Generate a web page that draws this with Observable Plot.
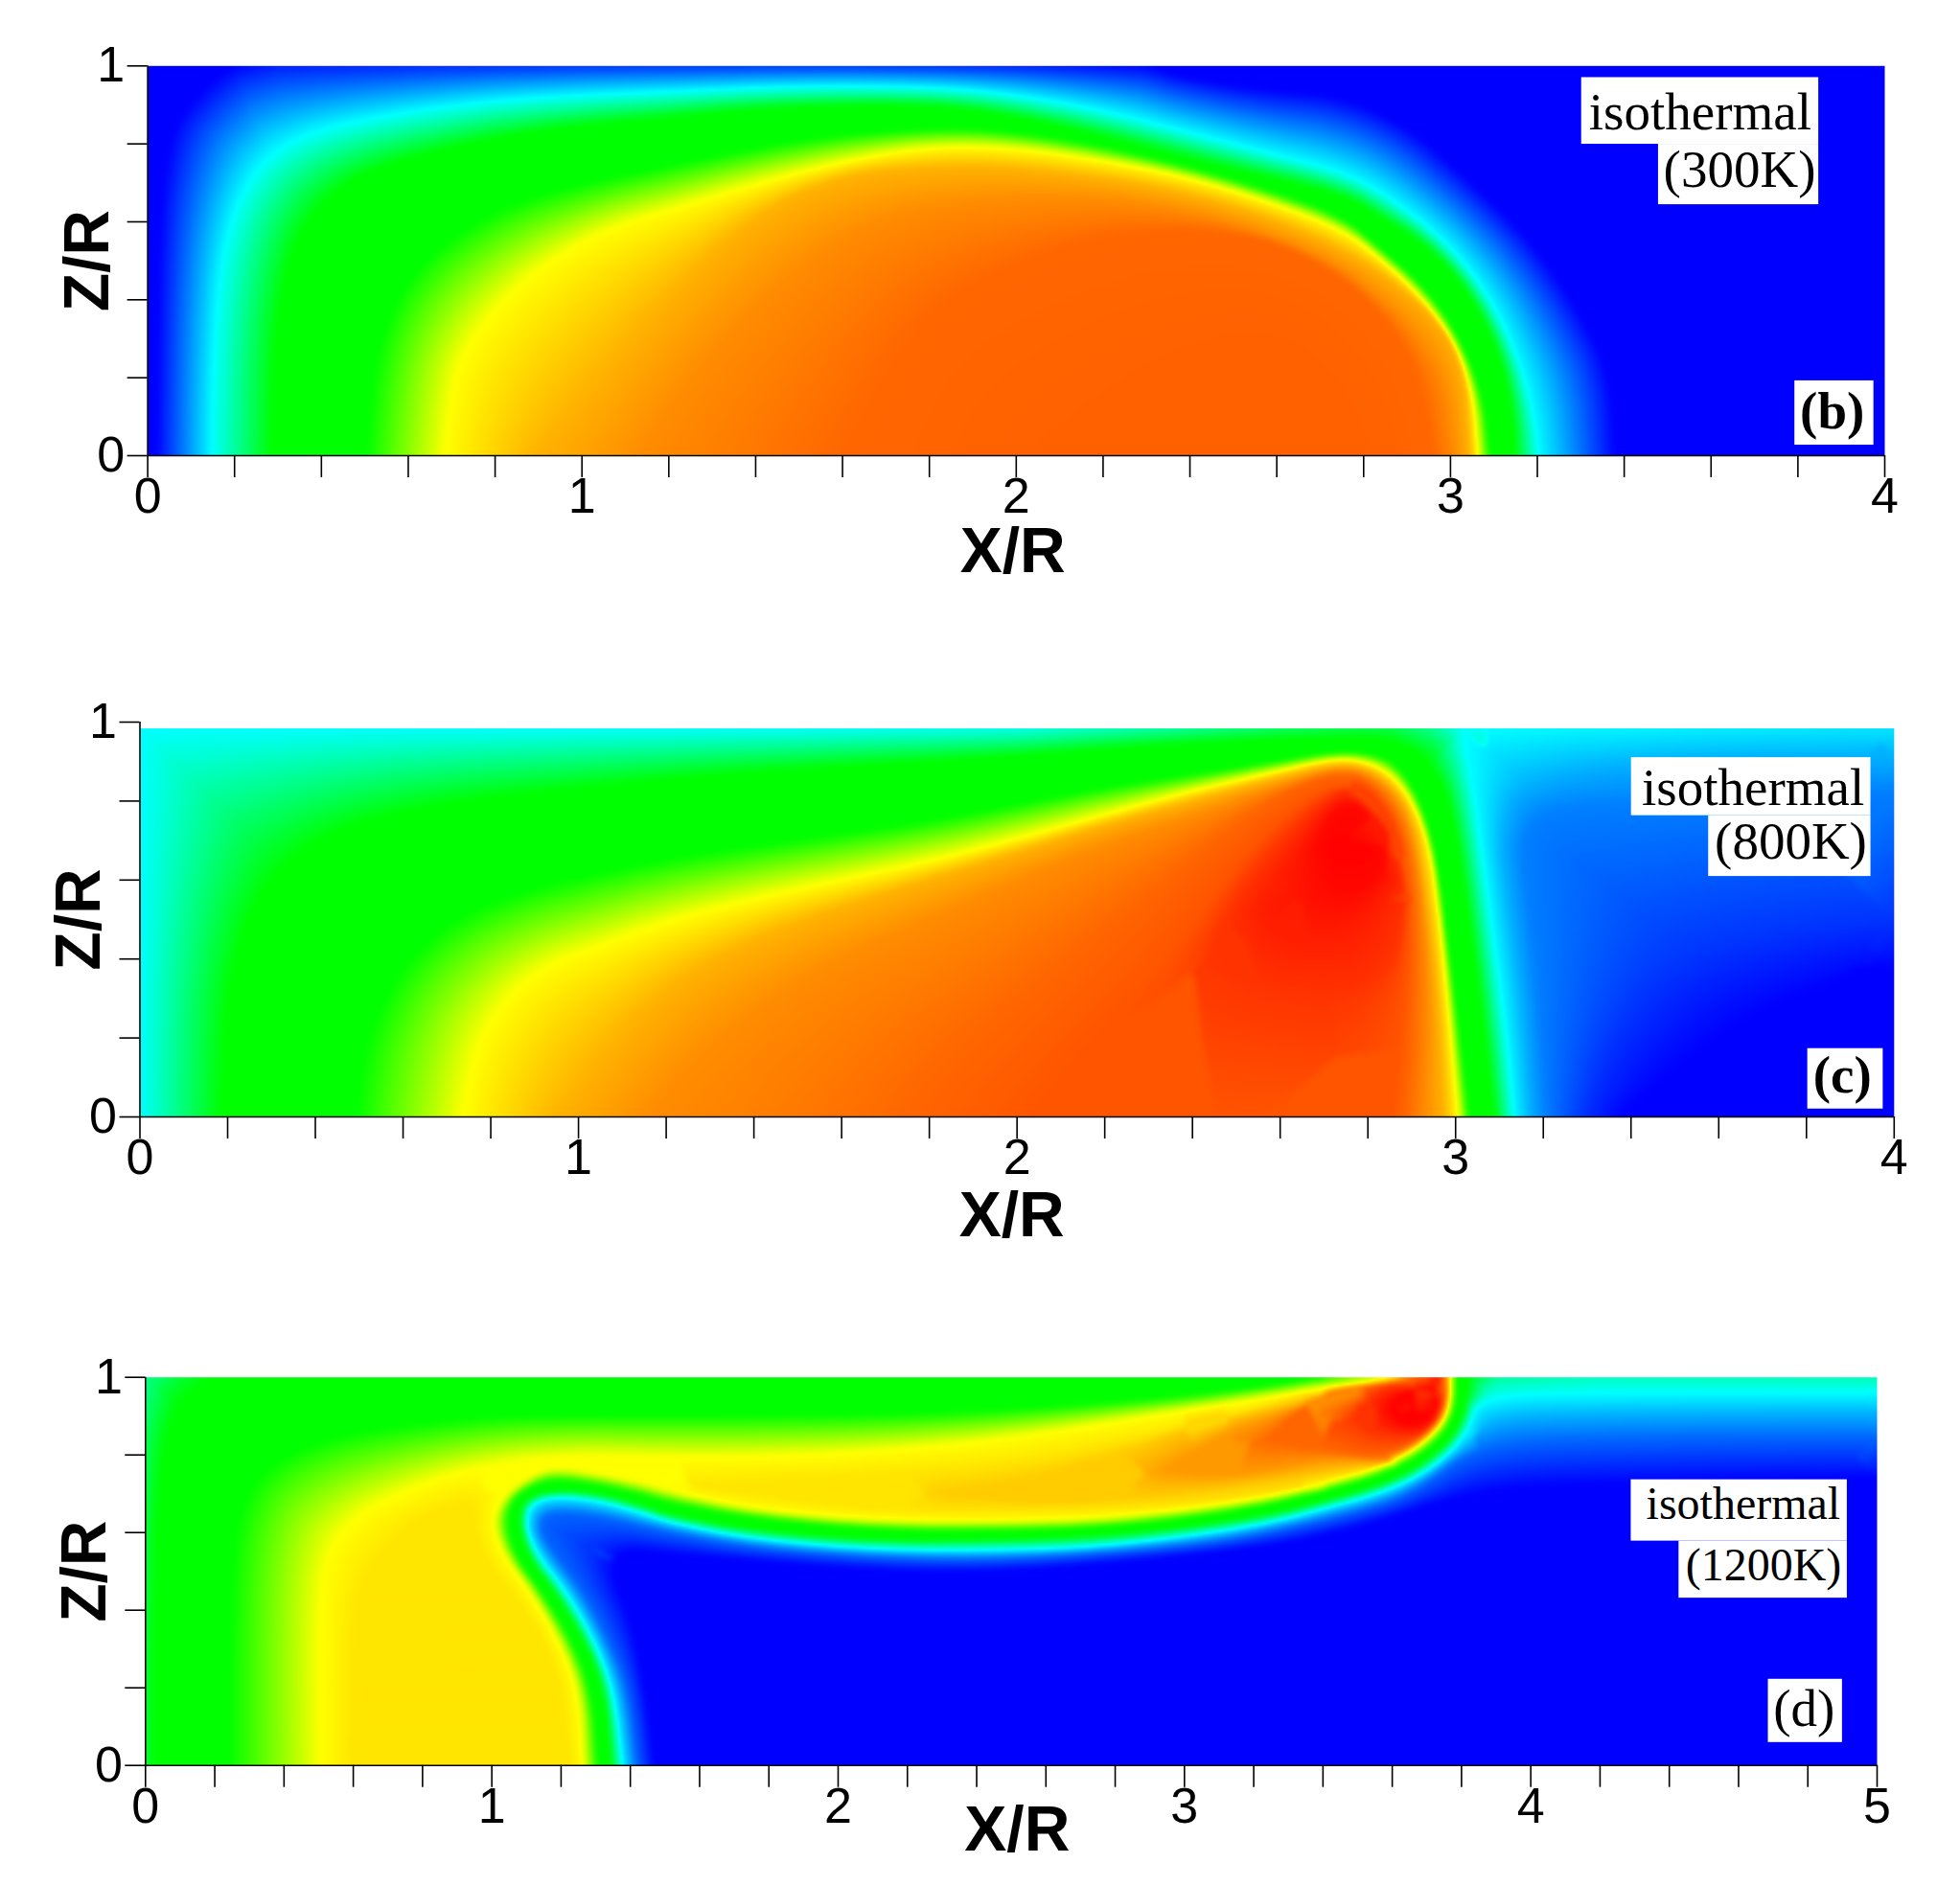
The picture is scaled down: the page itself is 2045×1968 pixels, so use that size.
<!DOCTYPE html>
<html><head><meta charset="utf-8">
<script src="https://cdn.jsdelivr.net/npm/d3@7"></script>
<script src="https://cdn.jsdelivr.net/npm/@observablehq/plot@0.6"></script>
<style>html,body{margin:0;background:#fff}#page{position:relative;width:2045px;height:1968px;background:#fff;overflow:hidden}#page svg{position:absolute;left:0}</style>
</head><body><div id="page"></div>
<script>
// colour levels: 0 blue, 1 cyan, 2 green, 3 yellow, 4 red
const levelValues = [0, 1, 2, 3, 4];
const levelColors = ["#0000ff", "#00ffff", "#00ff00", "#ffff00", "#ff0000"];

// ---------- panel (b): frame values [X/R, Z/R, level] and isolines [X/R, Z/R]
const b_frame = [[4,0,0],[4,1,0],[2.3,1,0],[2,1,.12],[1.6,1,.2],[1,1,.2],[.3,1,.12],[.2,1,0],[0,1,0],[0,0,0]];
const b_v0L = [[.02,0],[.025,.5],[.035,.7],[.06,.85],[.12,.93],[.16,.97],[.2,1]];
const b_v0R = [[2.3,1],[2.39,.97],[2.59,.935],[2.74,.925],[2.897,.85],[3.03,.72],[3.19,.55],[3.31,.35],[3.37,.2],[3.38,0]];
const b_v1 = [[.148,0],[.15,.2],[.163,.435],[.183,.567],[.222,.689],[.291,.783],[.399,.84],[.596,.882],[.793,.91],[.99,.924],[1.207,.934],[1.502,.948],[1.818,.945],[1.995,.925],[2.192,.887],[2.389,.831],[2.586,.774],[2.769,.722],[2.897,.633],[3.015,.52],[3.103,.379],[3.162,.229],[3.192,.097],[3.202,0]];
const b_g1 = [[.286,0],[.291,.247],[.311,.435],[.35,.576],[.439,.689],[.547,.746],[.743,.802],[.94,.84],[1.207,.868],[1.404,.89],[1.7,.901],[1.897,.89],[2.094,.849],[2.291,.793],[2.488,.737],[2.752,.671],[2.84,.61],[2.936,.548],[3.034,.436],[3.113,.266],[3.143,.106],[3.147,0]];
const b_g2 = [[.502,0],[.517,.2],[.547,.341],[.606,.464],[.694,.558],[.842,.652],[1.038,.708],[1.207,.746],[1.404,.792],[1.6,.825],[1.847,.842],[2,.83],[2.192,.796],[2.389,.744],[2.586,.68],[2.752,.614],[2.838,.53],[2.936,.436],[3.015,.313],[3.074,.153],[3.091,0]];
const b_v3 = [[.684,0],[.704,.2],[.743,.294],[.832,.417],[.94,.511],[1.068,.586],[1.207,.633],[1.404,.699],[1.6,.755],[1.798,.794],[1.995,.791],[2.192,.76],[2.389,.718],[2.586,.652],[2.752,.581],[2.838,.511],[2.936,.407],[3.015,.285],[3.054,.153],[3.064,0]];
const b_v33 = [[.89,0],[1,.15],[1.207,.42],[1.4,.62],[1.6,.72],[1.8,.74],[2,.74],[2.4,.68],[2.75,.54],[2.95,.38],[3.03,.25],[3.045,0]];
const b_v345 = [[1.137,0],[1.25,.2],[1.45,.44],[1.65,.6],[1.9,.66],[2.3,.66],[2.7,.53],[2.9,.35],[2.99,.2],[3.01,0]];
const b_v36 = [[1.6,0],[1.75,.3],[1.9,.45],[2.2,.57],[2.5,.58],[2.7,.5],[2.85,.36],[2.93,.2],[2.96,0]];
const b_v362 = [[2.1,0],[2.2,.1],[2.4,.25],[2.6,.3],[2.75,.15],[2.8,0]];
const b_v362base = [[2.1,0],[2.8,0]];
const panelB = [[null,b_frame],[0,b_v0L],[0,b_v0R],[1,b_v1],[2,b_g1],[2,b_g2],[3,b_v3],[3.3,b_v33],[3.45,b_v345],[3.6,b_v36],[3.62,b_v362],[3.62,b_v362base]];

// ---------- panel (c)
const c_frame = [[4,0,0],[4,.38,0],[4,.5,.2],[4,.823,.5],[4,.916,.7],[4,.984,.9],[3.5,.984,.95],[3.017,.984,1],[2.95,.984,1.4],[2.85,.984,1.7],[2.6,.984,1.6],[2.3,.984,1.3],[2,.984,1.05],[1.5,.984,1],[0,.984,1],[0,0,1]];
const c_v0 = [[3.38,0],[3.5,.12],[3.7,.28],[4,.38]];
const c_v02 = [[3.29,0],[3.35,.2],[3.5,.4],[3.8,.48],[4,.5]];
const c_v05 = [[3.205,0],[3.19,.3],[3.16,.59],[3.15,.7],[3.2,.78],[3.5,.8],[4,.823]];
const c_v07 = [[3.17,0],[3.15,.3],[3.113,.59],[3.1,.72],[3.14,.86],[3.5,.91],[4,.916]];
const c_v1R = [[3.133,0],[3.114,.22],[3.08,.499],[3.046,.777],[3.026,.916],[3.017,.984]];
const c_g1 = [[.185,0],[.194,.22],[.209,.359],[.258,.536],[.346,.656],[.463,.731],[.658,.786],[.854,.814],[1.207,.855],[1.5,.88],[1.993,.912],[2.288,.94],[2.748,.963],[2.827,.96],[2.905,.935],[2.958,.87],[2.992,.777],[3.031,.499],[3.065,.22],[3.089,0]];
const c_g2 = [[.492,0],[.512,.174],[.541,.266],[.59,.369],[.658,.452],[.756,.526],[.902,.582],[1.049,.619],[1.207,.656],[1.5,.703],[1.796,.749],[1.993,.791],[2.19,.833],[2.386,.865],[2.583,.898],[2.73,.925],[2.827,.916],[2.876,.879],[2.915,.805],[2.949,.684],[2.973,.499],[3.002,.266],[3.031,0]];
const c_v3 = [[.736,0],[.766,.174],[.814,.266],[.873,.341],[.951,.396],[1.049,.434],[1.207,.499],[1.404,.554],[1.6,.601],[1.796,.647],[1.993,.703],[2.19,.763],[2.386,.824],[2.583,.875],[2.73,.912],[2.808,.898],[2.866,.856],[2.91,.786],[2.944,.684],[2.963,.545],[2.983,.313],[3.007,0]];
const c_v33 = [[.951,0],[1.05,.15],[1.2,.33],[1.4,.45],[1.6,.53],[1.8,.6],[2,.67],[2.2,.74],[2.4,.8],[2.6,.86],[2.75,.9],[2.84,.86],[2.9,.77],[2.93,.6],[2.96,.3],[2.975,0]];
const c_v345 = [[1.16,0],[1.25,.12],[1.4,.27],[1.6,.4],[1.8,.5],[2,.6],[2.2,.69],[2.4,.76],[2.6,.84],[2.75,.89],[2.83,.85],[2.89,.76],[2.92,.6],[2.94,.3],[2.93,0]];
const c_v36 = [[1.75,0],[1.8,.1],[1.95,.25],[2.1,.39],[2.3,.57],[2.5,.75],[2.65,.85],[2.75,.875],[2.82,.84],[2.88,.74],[2.91,.55],[2.9,.2],[2.885,0]];
const c_v367 = [[2.05,0],[2.15,.15],[2.3,.33],[2.42,.52],[2.56,.72],[2.72,.85],[2.81,.81],[2.885,.65],[2.895,.4],[2.87,.15],[2.85,0]];
const c_v367base = [[2.05,0],[2.85,0]];
const c_v38U = [[2.45,.42],[2.5,.56],[2.62,.72],[2.72,.82],[2.78,.84],[2.86,.74],[2.89,.55]];
const c_v38L = [[2.89,.55],[2.86,.38],[2.75,.3],[2.55,.33],[2.45,.42]];
const c_v388U = [[2.55,.52],[2.62,.66],[2.7,.78],[2.76,.82],[2.83,.74],[2.86,.6]];
const c_v388L = [[2.86,.6],[2.8,.48],[2.7,.44],[2.6,.46],[2.55,.52]];
const c_v397U = [[2.68,.68],[2.72,.78],[2.78,.8],[2.84,.72]];
const c_v397L = [[2.84,.72],[2.84,.62],[2.76,.56],[2.7,.6],[2.68,.68]];
const c_v4 = [[2.72,.68],[2.8,.68]];
const panelC = [[null,c_frame],[0,c_v0],[.2,c_v02],[.5,c_v05],[.7,c_v07],[1,c_v1R],[2,c_g1],[2,c_g2],[3,c_v3],[3.3,c_v33],[3.45,c_v345],[3.6,c_v36],[3.67,c_v367],[3.67,c_v367base],[3.8,c_v38U],[3.8,c_v38L],[3.88,c_v388U],[3.88,c_v388L],[3.97,c_v397U],[3.97,c_v397L],[4,c_v4]];

// ---------- panel (d)
const d_frame = [[0,0,1.8],[0,.6,1.75],[0,.85,1.65],[0,1,1.45],[.1,1,1.8],[.2,1,2],[3.4,1,2],[3.63,1,3],[3.68,1,3.5],[3.73,1,3.9],[3.75,1,3.6],[3.77,1,3],[3.783,1,2],[3.82,1,2],[3.9,1,1.4],[4.2,1,1.25],[5,1,1.3],[5,.96,1],[5,.908,.7],[5,.846,.4],[5,.767,.1],[5,.741,0],[5,0,0]];
const d_v0 = [[1.469,0],[1.444,.187],[1.407,.363],[1.345,.495],[1.37,.556],[1.515,.545],[2.133,.5],[2.5,.5],[3,.539],[3.308,.574],[3.555,.627],[3.8,.697],[4.05,.723],[5,.741]];
const d_v04 = [[1.419,0],[1.395,.187],[1.339,.319],[1.259,.451],[1.185,.539],[1.136,.609],[1.16,.653],[1.308,.644],[1.515,.6],[1.763,.561],[2.133,.534],[2.5,.53],[3,.565],[3.243,.6],[3.555,.666],[3.678,.714],[3.826,.811],[4.05,.842],[5,.846]];
const d_v07 = [[3.86,.87],[3.9,.89],[4.05,.905],[5,.908]];
const d_v1 = [[1.376,0],[1.351,.187],[1.296,.319],[1.21,.451],[1.13,.539],[1.092,.627],[1.117,.679],[1.185,.697],[1.308,.684],[1.432,.653],[1.515,.627],[1.763,.583],[2.133,.556],[2.5,.556],[2.75,.565],[3,.591],[3.243,.625],[3.432,.67],[3.555,.701],[3.666,.741],[3.764,.802],[3.82,.873],[3.851,.952],[4.2,.96],[5,.96]];
const d_gA = [[.03,0],[.03,.5],[.04,.75],[.075,.9],[.13,.96],[.2,1]];
const d_gB = [[.242,0],[.242,.363],[.254,.583],[.285,.688],[.346,.767],[.47,.829],[.63,.864],[.877,.89],[1.062,.902],[1.515,.902],[2.01,.903],[2.38,.912],[2.75,.934],[3,.952],[3.243,.978],[3.37,.996]];
const d_gC = [[1.308,0],[1.29,.187],[1.234,.319],[1.142,.451],[1.068,.539],[1.043,.627],[1.062,.688],[1.123,.723],[1.185,.736],[1.308,.723],[1.432,.697],[1.515,.675],[1.763,.635],[2.133,.605],[2.5,.605],[2.75,.612],[3,.635],[3.243,.67],[3.432,.714],[3.555,.745],[3.654,.785],[3.721,.829],[3.764,.877],[3.783,.934],[3.783,1]];
const d_gD = [[1.345,0],[1.327,.187],[1.271,.319],[1.179,.451],[1.105,.539],[1.08,.627],[1.092,.688],[1.185,.706],[1.308,.701],[1.432,.67],[1.515,.644],[1.763,.604],[2.133,.578],[2.5,.583],[2.75,.591],[3,.613],[3.243,.645],[3.432,.688],[3.555,.719],[3.654,.758],[3.734,.811],[3.789,.864],[3.814,.934],[3.82,1]];
const d_yA = [[.507,0],[.502,.363],[.519,.539],[.6,.64],[.75,.71],[.94,.767],[1.2,.8],[1.5,.795],[1.75,.795],[2.13,.81],[2.5,.843],[2.87,.896],[3.24,.95],[3.43,.978],[3.555,.99],[3.63,1]];
const d_yB = [[1.265,0],[1.253,.187],[1.197,.319],[1.111,.451],[1.037,.539],[1,.627],[1.037,.697],[1.123,.75],[1.185,.767],[1.308,.75],[1.432,.728],[1.515,.706],[1.763,.656],[2.133,.628],[2.5,.628],[2.75,.635],[3,.657],[3.243,.69],[3.432,.732],[3.555,.762],[3.654,.807],[3.721,.855],[3.758,.899],[3.771,.952],[3.77,1]];
const d_v31a = [[.6,0],[.6,.35],[.63,.48],[.73,.6],[.85,.66],[.95,.68],[.95,.6],[1,.5],[1.08,.42],[1.15,.32],[1.2,.2],[1.225,0]];
const d_v31aBase = [[.6,0],[1.225,0]];
const d_v31U = [[3.35,.96],[3.1,.89],[2.87,.845],[2.5,.775],[2.13,.75],[1.6,.72]];
const d_v31L = [[1.6,.72],[2.13,.655],[2.5,.655],[2.87,.665],[3.1,.68],[3.4,.72]];
const d_v32U = [[3.4,.955],[3.24,.92],[3,.875],[2.87,.82],[2.6,.745],[2.3,.7]];
const d_v32L = [[2.3,.7],[2.6,.675],[2.87,.69],[3,.7],[3.24,.727],[3.55,.772]];
const d_v34U = [[3.5,.965],[3.35,.93],[3.24,.895],[3.1,.85],[2.95,.76]];
const d_v34L = [[2.95,.76],[3.1,.745],[3.24,.76],[3.43,.79],[3.6,.78]];
const d_v36U = [[3.68,1],[3.5,.975],[3.42,.96],[3.33,.92],[3.24,.84]];
const d_v36L = [[3.24,.84],[3.35,.82],[3.43,.81],[3.55,.79],[3.65,.82],[3.71,.865],[3.745,.91],[3.755,.96],[3.75,1]];
const d_v38U = [[3.49,.9],[3.54,.95],[3.6,.985],[3.745,.95]];
const d_v38L = [[3.49,.9],[3.56,.85],[3.68,.845],[3.735,.89],[3.745,.95]];
const d_v4U = [[3.6,.93],[3.65,.97],[3.72,.97],[3.73,.93]];
const d_v4L = [[3.6,.93],[3.62,.88],[3.7,.88],[3.73,.93]];
const panelD = [[null,d_frame],[0,d_v0],[.4,d_v04],[.7,d_v07],[1,d_v1],[2,d_gA],[2,d_gB],[2,d_gC],[2,d_gD],[3,d_yA],[3,d_yB],[3.1,d_v31a],[3.1,d_v31aBase],[3.1,d_v31U],[3.1,d_v31L],[3.2,d_v32U],[3.2,d_v32L],[3.4,d_v34U],[3.4,d_v34L],[3.6,d_v36U],[3.6,d_v36L],[3.8,d_v38U],[3.8,d_v38L],[4,d_v4U],[4,d_v4L]];

// ---------- ticks
const ticks4 = [0,.2,.4,.6,.8,1,1.2,1.4,1.6,1.8,2,2.2,2.4,2.6,2.8,3,3.2,3.4,3.6,3.8,4];
const ticks5 = [0,.2,.4,.6,.8,1,1.2,1.4,1.6,1.8,2,2.2,2.4,2.6,2.8,3,3.2,3.4,3.6,3.8,4,4.2,4.4,4.6,4.8,5];
const ticksZ = [0,.2,.4,.6,.8,1];

// ---------- annotations
const b_boxes = [[3.302,3.848,.799,.97],[3.479,3.848,.644,.799],[3.793,3.975,.027,.192]];
const b_notes = [{t:"isothermal",x:3.831,z:.836},{t:"(300K)",x:3.841,z:.689}];
const b_tag = {t:"(b)",x:3.879,z:.069,w:"bold"};
const c_boxes = [[3.401,3.947,.763,.91],[3.577,3.947,.609,.763],[3.803,3.975,.02,.173]];
const c_notes = [{t:"isothermal",x:3.932,z:.789},{t:"(800K)",x:3.938,z:.655}];
const c_tag = {t:"(c)",x:3.882,z:.061,w:"bold"};
const d_boxes = [[4.29,4.914,.578,.736],[4.428,4.914,.431,.578],[4.686,4.9,.059,.222]];
const d_notes = [{t:"isothermal",x:4.894,z:.636},{t:"(1200K)",x:4.897,z:.476}];
const d_tag = {t:"(d)",x:4.789,z:.101,w:"normal"};

const sans = "Liberation Sans, Arial, sans-serif", serif = "Liberation Serif, Times New Roman, serif";

// rounds the corners of a read isoline, end points stay
function rounded(line) {
  let p = line;
  for (let n = 0; n < 2; n++) {
    if (p.length < 3) break;
    const q = [p[0]];
    for (let i = 0; i < p.length - 1; i++) {
      q.push([.75*p[i][0]+.25*p[i+1][0], .75*p[i][1]+.25*p[i+1][1]]);
      q.push([.25*p[i][0]+.75*p[i+1][0], .25*p[i][1]+.75*p[i+1][1]]);
    }
    q.push(p[p.length-1]);
    p = q;
  }
  return p;
}

// level at (x, z): linear in distance between the nearest isoline and the nearest one on its far side
function fieldOf(levels, sx, sz) {
  const lines = levels.map(([v, line]) => (v == null ? line : rounded(line).map(q => [q[0], q[1], v])).map(q => [q[0]*sx, q[1]*sz, q[2]]));
  const n = lines.length, dx = new Float64Array(n), dy = new Float64Array(n), dd = new Float64Array(n), vv = new Float64Array(n);
  const order = d3.range(n);
  const crosses = (p, ax, ay, bx, by) => {
    for (let i = 0; i < p.length-1; i++) {
      const cx = p[i][0], cy = p[i][1], ex = p[i+1][0], ey = p[i+1][1];
      const d1 = (bx-ax)*(cy-ay)-(by-ay)*(cx-ax), d2 = (bx-ax)*(ey-ay)-(by-ay)*(ex-ax);
      if (d1*d2 >= 0) continue;
      const d3_ = (ex-cx)*(ay-cy)-(ey-cy)*(ax-cx), d4 = (ex-cx)*(by-cy)-(ey-cy)*(bx-cx);
      if (d3_*d4 < 0) return true;
    }
    return false;
  };
  return (x, z) => {
    const px = x*sx, py = z*sz;
    for (let k = 0; k < n; k++) {
      const p = lines[k]; let best = Infinity, bx = 0, by = 0, bv = p[0][2];
      if (p.length === 1) { bx = p[0][0]-px; by = p[0][1]-py; best = bx*bx+by*by; }
      for (let i = 0; i < p.length-1; i++) {
        const x0 = p[i][0], y0 = p[i][1], ex = p[i+1][0]-x0, ey = p[i+1][1]-y0;
        const l = ex*ex+ey*ey; let t = l ? ((px-x0)*ex+(py-y0)*ey)/l : 0;
        t = t<0?0:t>1?1:t;
        const qx = x0+t*ex-px, qy = y0+t*ey-py, d = qx*qx+qy*qy;
        if (d<best) { best=d; bx=qx; by=qy; bv=p[i][2]+t*(p[i+1][2]-p[i][2]); }
      }
      dx[k]=bx; dy[k]=by; dd[k]=Math.sqrt(best); vv[k]=bv;
    }
    order.sort((i,j) => dd[i]-dd[j]);
    const a = order[0], da = dd[a];
    if (da < 1e-6) return vv[a];
    for (let o = 1; o < n; o++) {
      const k = order[o], cos = (dx[a]*dx[k]+dy[a]*dy[k])/(da*dd[k]+1e-9);
      if (cos < -0.2) {
        if (crosses(lines[a], px, py, px+dx[k], py+dy[k])) continue;
        return (vv[a]*dd[k] + vv[k]*da)/(da+dd[k]);
      }
      if (Math.abs(vv[k]-vv[a]) < 1e-3 && cos < 0.3) return vv[a];
    }
    return vv[a];
  };
}

function panel({levels, xMax, xTicks, top, height, frameTop, frameBottom, left, right, zTop, boxes, notes, tag, noteSize, labelX, labelBase, zLabelZ, zLabelBase}) {
  const fmt = d => Number.isInteger(d) ? String(d) : "";
  const field = fieldOf(levels, (right-left)/xMax, frameBottom-frameTop);
  // the field is sampled on a cell grid and softened a little
  const nx = Math.round((right-left)/2), ny = Math.round((frameBottom-frameTop)*zTop/2);
  const cells = new Float64Array(nx*ny);
  for (let j = 0; j < ny; j++) for (let i = 0; i < nx; i++) cells[j*nx+i] = field((i+.5)/nx*xMax, (j+.5)/ny*zTop);
  d3.blur2({data: cells, width: nx, height: ny}, 1);
  const soft = (x, z) => cells[Math.min(ny-1, Math.max(0, Math.floor(z/zTop*ny)))*nx + Math.min(nx-1, Math.max(0, Math.floor(x/xMax*nx)))];
  const svg = Plot.plot({
    width: 2045, height,
    marginLeft: left, marginRight: 2045 - right,
    marginTop: frameTop - top, marginBottom: top + height - frameBottom,
    x: {domain: [0, xMax], axis: null},
    y: {domain: [0, 1], axis: null},
    color: {type: "linear", domain: levelValues, range: levelColors, interpolate: "rgb", clamp: true},
    style: {background: "white", fontFamily: sans, color: "#000", overflow: "visible"},
    marks: [
      Plot.raster({fill: soft, x1: 0, x2: xMax, y1: 0, y2: zTop, pixelSize: 2}),
      Plot.rect(boxes, {x1: d => d[0], x2: d => d[1], y1: d => d[2], y2: d => d[3], fill: "white"}),
      Plot.text(notes, {x: "x", y: "z", text: "t", fontFamily: serif, fontSize: noteSize, textAnchor: "end", lineAnchor: "bottom", fill: "black"}),
      Plot.text([tag], {x: "x", y: "z", text: "t", fontFamily: serif, fontSize: 55, fontWeight: tag.w, textAnchor: "middle", lineAnchor: "bottom", fill: "black"}),
      Plot.ruleX([0], {y1: 0, y2: 1, stroke: "black", strokeWidth: 1.6}),
      Plot.ruleY([0], {stroke: "black", strokeWidth: 1.6}),
      Plot.axisX({ticks: xTicks, tickSize: 23, tickPadding: 0, tickFormat: fmt, fontSize: 52, fontFamily: sans, label: null, strokeWidth: 1.6, stroke: "black", fill: "black"}),
      Plot.axisY({ticks: ticksZ, tickSize: 21, tickPadding: 3, tickFormat: fmt, fontSize: 52, fontFamily: sans, label: null, strokeWidth: 1.6, stroke: "black", fill: "black"}),
      Plot.text(["X/R"], {x: labelX, frameAnchor: "bottom", dy: labelBase - frameBottom, lineAnchor: "bottom", textAnchor: "middle", fontSize: 66, fontWeight: "bold", fontFamily: sans, fill: "black"}),
      Plot.text(["Z/R"], {y: zLabelZ, frameAnchor: "left", dx: zLabelBase - left, rotate: -90, lineAnchor: "bottom", textAnchor: "middle", fontSize: 66, fontWeight: "bold", fontFamily: sans, fill: "black"})
    ]
  });
  svg.style.top = top + "px";
  document.getElementById("page").appendChild(svg);
}

panel({levels: panelB, xMax: 4, xTicks: ticks4, top: 0, height: 620, frameTop: 68.3, frameBottom: 475, left: 153.6, right: 1966, zTop: 1, boxes: b_boxes, notes: b_notes, tag: b_tag, noteSize: 55, labelX: 1.992, labelBase: 596, zLabelZ: .5, zLabelBase: 112});
panel({levels: panelC, xMax: 4, xTicks: ticks4, top: 700, height: 620, frameTop: 753, frameBottom: 1165, left: 145.5, right: 1975.8, zTop: .984, boxes: c_boxes, notes: c_notes, tag: c_tag, noteSize: 55, labelX: 1.988, labelBase: 1289, zLabelZ: .5, zLabelBase: 103.6});
panel({levels: panelD, xMax: 5, xTicks: ticks5, top: 1380, height: 588, frameTop: 1436.7, frameBottom: 1841.7, left: 151.3, right: 1958, zTop: 1, boxes: d_boxes, notes: d_notes, tag: d_tag, noteSize: 48, labelX: 2.517, labelBase: 1930, zLabelZ: .5, zLabelBase: 109});
</script>
</body></html>
